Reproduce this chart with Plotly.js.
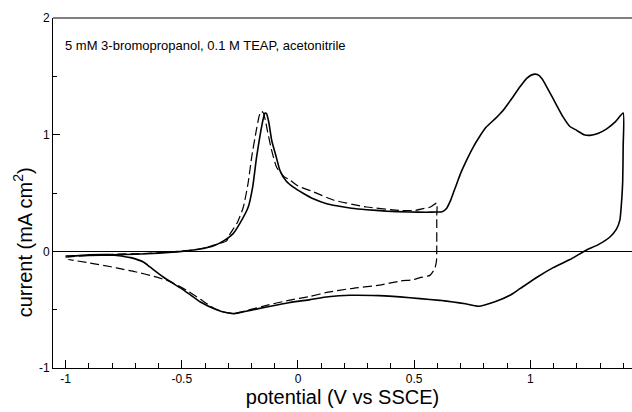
<!DOCTYPE html>
<html>
<head>
<meta charset="utf-8">
<script src="https://cdn.plot.ly/plotly-3.0.1.min.js"></script>
<style>
  html, body { margin: 0; padding: 0; background: #fff; overflow: hidden; }
  #chart { width: 632px; height: 412px; }
</style>
</head>
<body>
<div id="chart"></div>
<script>
// Full scan to +1.4 V (solid)
const solidV = [
  -1.0, -0.9, -0.8, -0.7, -0.6, -0.5, -0.42, -0.36, -0.32, -0.28, -0.25, -0.214, -0.195, -0.178, -0.16, -0.148, -0.142,
  -0.135, -0.125, -0.113, -0.095, -0.077, -0.05, -0.02, 0.02, 0.066, 0.12, 0.166, 0.23, 0.295, 0.38, 0.48, 0.55, 0.597,
  0.62, 0.64, 0.655, 0.67, 0.685, 0.70, 0.725, 0.754, 0.78, 0.81, 0.85, 0.883, 0.92, 0.955, 0.985, 1.012, 1.03,
  1.05, 1.07, 1.10, 1.141, 1.17, 1.199, 1.23, 1.256, 1.29, 1.328, 1.365, 1.399,
  1.399, 1.397, 1.393, 1.385, 1.37, 1.342, 1.29, 1.24, 1.17, 1.098, 1.03, 0.955, 0.912, 0.85, 0.776, 0.72, 0.668, 0.61,
  0.525, 0.439, 0.35, 0.224, 0.13, 0.052, -0.04, -0.135, -0.206, -0.25, -0.278, -0.31, -0.35, -0.42, -0.493, -0.536,
  -0.58, -0.637, -0.665, -0.72, -0.78, -0.823, -0.9, -0.99
];
const solidI = [
  -0.04, -0.035, -0.03, -0.025, -0.015, 0.0, 0.02, 0.05, 0.09, 0.15, 0.24, 0.38, 0.55, 0.81, 1.03, 1.15, 1.185,
  1.18, 1.1, 0.95, 0.82, 0.69, 0.6, 0.55, 0.5, 0.45, 0.41, 0.39, 0.37, 0.357, 0.345, 0.337, 0.335, 0.337,
  0.34, 0.37, 0.43, 0.51, 0.59, 0.67, 0.78, 0.894, 0.98, 1.065, 1.14, 1.21, 1.31, 1.41, 1.485, 1.517, 1.515,
  1.48, 1.41, 1.3, 1.15, 1.07, 1.037, 1.0, 0.994, 1.01, 1.05, 1.11, 1.185,
  0.9, 0.6, 0.45, 0.27, 0.19, 0.123, 0.055, 0.01, -0.07, -0.14, -0.22, -0.32, -0.377, -0.43, -0.471, -0.45, -0.434, -0.42,
  -0.405, -0.39, -0.38, -0.377, -0.39, -0.414, -0.44, -0.477, -0.506, -0.525, -0.534, -0.525, -0.5, -0.434, -0.33, -0.277,
  -0.22, -0.134, -0.092, -0.054, -0.035, -0.028, -0.03, -0.043
];

// Scan reversed at +0.6 V (dashed)
const dashV = [
  -1.0, -0.9, -0.8, -0.68, -0.58, -0.46, -0.4, -0.35, -0.307, -0.292, -0.26, -0.235, -0.215, -0.199, -0.18, -0.167, -0.159,
  -0.15, -0.14, -0.132, -0.115, -0.092, -0.06, -0.034, 0.0, 0.066, 0.152, 0.295, 0.439, 0.5, 0.539, 0.57, 0.597,
  0.597, 0.597, 0.596, 0.59, 0.582, 0.568, 0.525, 0.496, 0.439, 0.35, 0.224, 0.13, 0.052, -0.04, -0.135, -0.206, -0.264,
  -0.29, -0.32, -0.36, -0.42, -0.479, -0.55, -0.62, -0.7, -0.751, -0.81, -0.895, -0.988
];
const dashI = [
  -0.05, -0.035, -0.025, -0.02, -0.01, 0.01, 0.03, 0.06, 0.09, 0.15, 0.25, 0.38, 0.58, 0.81, 1.03, 1.16, 1.2,
  1.19, 1.12, 1.037, 0.88, 0.72, 0.64, 0.61, 0.56, 0.51, 0.44, 0.38, 0.351, 0.35, 0.366, 0.38, 0.414,
  0.3, 0.0, -0.077, -0.14, -0.17, -0.206, -0.226, -0.243, -0.255, -0.29, -0.32, -0.35, -0.386, -0.42, -0.463, -0.5, -0.529,
  -0.53, -0.52, -0.49, -0.41, -0.334, -0.26, -0.215, -0.175, -0.155, -0.13, -0.1, -0.07
];

const xTickVals = [-1, -0.5, 0, 0.5, 1];
const xTickText = ['-1', '-0.5', '0', '0.5', '1'];
const yTickVals = [-1, 0, 1, 2];
const yTickText = ['-1', '0', '1', '2'];
const noteText = '5 mM 3-bromopropanol, 0.1 M TEAP, acetonitrile';
const xTitle = 'potential (V vs SSCE)';
const yTitle = 'current (mA cm<sup>2</sup>)';

const font = 'Liberation Sans, Arial, sans-serif';

const traces = [
  {
    x: solidV, y: solidI, type: 'scatter', mode: 'lines',
    line: { color: '#000', width: 1.6, shape: 'spline', smoothing: 0.5 },
    hoverinfo: 'skip', showlegend: false
  },
  {
    x: dashV, y: dashI, type: 'scatter', mode: 'lines',
    line: { color: '#000', width: 1.2, dash: '9px,4px', shape: 'spline', smoothing: 0.5 },
    hoverinfo: 'skip', showlegend: false
  }
];

const layout = {
  width: 632, height: 412,
  margin: { l: 53, r: 0, t: 18, b: 44 },
  paper_bgcolor: '#fff', plot_bgcolor: '#fff',
  font: { family: font, color: '#000', size: 12 },
  showlegend: false,
  xaxis: {
    range: [-1.054, 1.437],
    showgrid: false, zeroline: false,
    showline: true, linecolor: '#000', linewidth: 1,
    ticks: 'inside', ticklen: 8, tickwidth: 1, tickcolor: '#000',
    tickvals: xTickVals, ticktext: xTickText,
    tickfont: { family: font, size: 12, color: '#000' },
    minor: { dtick: 0.1, tick0: 0, ticks: 'inside', ticklen: 5, tickwidth: 1, tickcolor: '#000', showgrid: false },
    title: { text: xTitle, font: { family: font, size: 20, color: '#000' }, standoff: 2 },
    fixedrange: true
  },
  yaxis: {
    range: [-1, 2],
    showgrid: false,
    zeroline: true, zerolinecolor: '#000', zerolinewidth: 1,
    showline: true, linecolor: '#000', linewidth: 1,
    ticks: 'inside', ticklen: 7, tickwidth: 1, tickcolor: '#000',
    tickvals: yTickVals, ticktext: yTickText,
    tickfont: { family: font, size: 12, color: '#000' },
    minor: { dtick: 0.5, tick0: 0, ticks: 'inside', ticklen: 4, tickwidth: 1, tickcolor: '#000', showgrid: false },
    fixedrange: true
  },
  shapes: [
    { type: 'line', xref: 'paper', yref: 'paper', x0: 0, x1: 1, y0: 1, y1: 1, line: { color: '#000', width: 1 } }
  ],
  annotations: [
    { text: noteText, xref: 'paper', yref: 'paper', x: 0.017, y: 0.92, xanchor: 'left', yanchor: 'middle',
      showarrow: false, font: { family: font, size: 13, color: '#000' } },
    { text: yTitle, xref: 'paper', yref: 'paper', x: -0.053, y: 0.36, xanchor: 'center', yanchor: 'middle',
      textangle: -90, showarrow: false, font: { family: font, size: 20, color: '#000' } }
  ]
};

Plotly.newPlot('chart', traces, layout, { displayModeBar: false, staticPlot: true });
</script>
</body>
</html>
